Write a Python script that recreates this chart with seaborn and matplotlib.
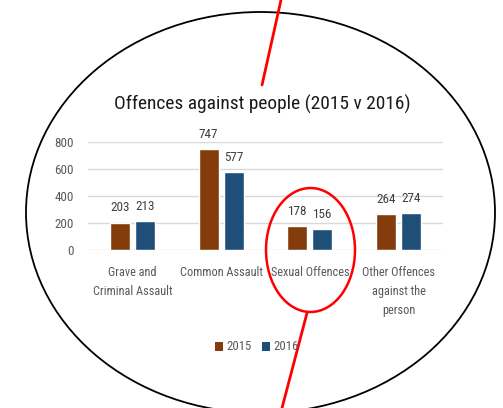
import matplotlib
matplotlib.use("Agg")
import matplotlib.pyplot as plt
from matplotlib import font_manager
from matplotlib.patches import Ellipse, Patch
import seaborn as sns
import pandas as pd

categories = ["Grave and\nCriminal Assault", "Common Assault", "Sexual Offences",
              "Other Offences\nagainst the\nperson"]
years = ["2015", "2016"]
values_2015 = [203, 747, 178, 264]
values_2016 = [213, 577, 156, 274]
yticks = [0, 200, 400, 600, 800]
colors = ["#843C0C", "#1F4E79"]
title = "Offences against people (2015 v 2016)"

sns.set_theme(style="white")
names = {f.name for f in font_manager.fontManager.ttflist}
preferred = ["Liberation Sans Narrow", "Roboto Condensed", "Open Sans Condensed",
             "DejaVu Sans Condensed", "Lato", "Liberation Sans"]
base = next((n for n in preferred if n in names), "DejaVu Sans")
plt.rcParams["font.family"] = [base, "DejaVu Sans"]

df = pd.DataFrame({
    "category": categories * 2,
    "year": [years[0]] * 4 + [years[1]] * 4,
    "count": values_2015 + values_2016,
})

W, H = 503, 408
fig = plt.figure(figsize=(W / 100, H / 100), dpi=100)
fig.patch.set_facecolor("white")
renderer = fig.canvas.get_renderer()


def fit_size(sample, width_px):
    """Font size (pt) at which `sample` is about width_px pixels wide."""
    t = fig.text(0, 0, sample, fontsize=10)
    w = t.get_window_extent(renderer).width
    t.remove()
    return 10 * width_px / w


title_fs = fit_size(title, 294)
cat_fs = fit_size("Sexual Offences", 78)
val_fs = fit_size("747", 19.5)
tick_fs = fit_size("800", 19)
leg_fs = fit_size("2015", 25)

ax = fig.add_axes([88 / W, 1 - 250 / H, 355 / W, 108 / H])

sns.barplot(data=df, x="category", y="count", hue="year", order=categories,
            hue_order=years, palette=colors, width=0.562, gap=0.2,
            saturation=1, legend=False, ax=ax)

ax.set_ylim(0, 800)
ax.set_xlim(-0.5, 3.5)
ax.set_yticks(yticks)
ax.yaxis.grid(True, color="#D9D9D9", linewidth=1)
ax.set_axisbelow(True)
for s in ax.spines.values():
    s.set_visible(False)
ax.set_xlabel("")
ax.set_ylabel("")
ax.tick_params(axis="y", length=0, pad=10, labelsize=tick_fs, labelcolor="#595959")
ax.tick_params(axis="x", length=0, pad=11.5, labelsize=cat_fs, labelcolor="#595959")
cat_px = cat_fs * 100 / 72
for lbl in ax.get_xticklabels():
    lbl.set_linespacing(23.5 / (1.2 * cat_px))
    lbl.set_verticalalignment("top")

for cont in ax.containers:
    ax.bar_label(cont, fmt="%d", padding=6, fontsize=val_fs, color="#404040")

fig.text(262 / W, 1 - 104 / H, title, ha="center", va="center",
         fontsize=title_fs, color="#1A1A1A")

handles = [Patch(facecolor=c, edgecolor="none") for c in colors]
fig.legend(handles, years, loc="center", bbox_to_anchor=(257 / W, 1 - 347 / H),
           ncol=2, frameon=False, fontsize=leg_fs, handlelength=0.6, handleheight=0.7,
           handletextpad=0.3, columnspacing=0.8, labelcolor="#595959")

# annotation layer in pixel units
over = fig.add_axes([0, 0, 1, 1], facecolor="none")
over.set_xlim(0, W)
over.set_ylim(H, 0)
over.axis("off")
over.add_patch(Ellipse((260.5, 212.5), 469, 401, fill=False, edgecolor="black", linewidth=1.3))
over.add_patch(Ellipse((310.5, 250), 89, 124, fill=False, edgecolor="#FF0000", linewidth=1.8))
over.plot([262, 281], [85, 0], color="#FF0000", linewidth=2)
over.plot([307, 282], [313, 408], color="#FF0000", linewidth=2)

fig.savefig("out.png", dpi=100, facecolor="white")
